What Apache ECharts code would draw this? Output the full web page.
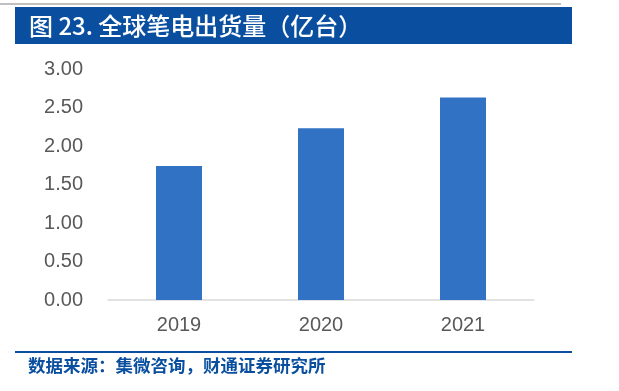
<!DOCTYPE html>
<html><head><meta charset="utf-8">
<script src="https://cdn.jsdelivr.net/npm/echarts@6/dist/echarts.min.js"></script>
<style>html,body{margin:0;padding:0;background:#fff}#c{width:619px;height:391px}</style>
</head><body><div id="c"></div>
<script>
const categories = ['2019', '2020', '2021'];
const shipments = [1.74, 2.23, 2.63];
const yTicks = [0, 0.5, 1, 1.5, 2, 2.5, 3];
const titleText = '图 23. 全球笔电出货量（亿台）';
const sourceText = '数据来源：集微咨询，财通证券研究所';

const chart = echarts.init(document.getElementById('c'), null, {renderer: 'canvas'});
chart.setOption({
  animation: false,
  backgroundColor: '#fff',
  grid: {left: 108, right: 85, top: 69, bottom: 91, containLabel: false},
  xAxis: {
    type: 'category', data: categories,
    axisLine: {lineStyle: {color: '#d9d9d9', width: 1.5}},
    axisTick: {show: false},
    axisLabel: {color: '#595959', fontSize: 20, fontFamily: 'Liberation Sans', margin: 15}
  },
  yAxis: {
    type: 'value', min: yTicks[0], max: yTicks[yTicks.length - 1], interval: 0.5,
    axisLine: {show: false}, axisTick: {show: false}, splitLine: {show: false},
    axisLabel: {color: '#595959', fontSize: 20, fontFamily: 'Liberation Sans', margin: 25,
      formatter: v => v.toFixed(2)}
  },
  series: [{
    type: 'bar', data: shipments, barWidth: 46,
    itemStyle: {color: '#3172c4'}
  }],
  graphic: [
    {type: 'rect', shape: {x: 0, y: 3, width: 561, height: 2}, style: {fill: '#c0c0c0'}},
    {type: 'rect', shape: {x: 15, y: 7, width: 557, height: 37}, style: {fill: '#0a4f9f'}},
    {type: 'text', x: 29, y: 26, style: {text: titleText, fill: '#fff', fontSize: 24,
      fontWeight: 500, fontFamily: 'Noto Sans CJK SC', verticalAlign: 'middle'}},
    {type: 'rect', shape: {x: 15, y: 351, width: 557, height: 2}, style: {fill: '#0a4f9f'}},
    {type: 'text', x: 28, y: 365, style: {text: sourceText, fill: '#0a4f9f', fontSize: 17.5,
      fontWeight: 'bold', fontFamily: 'Noto Sans CJK SC', verticalAlign: 'middle'}}
  ]
});
</script></body></html>
